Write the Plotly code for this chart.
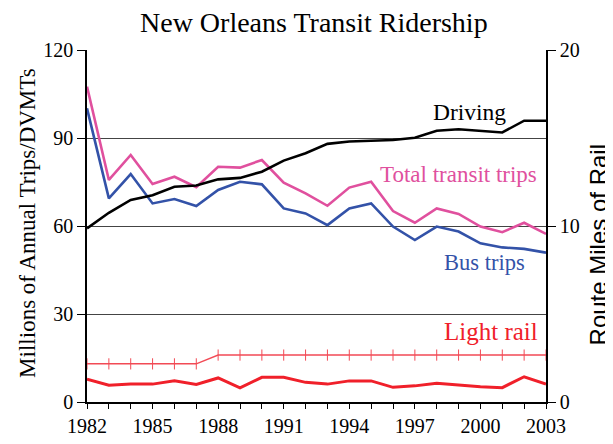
import plotly.graph_objects as go

years = list(range(1982, 2004))
driving = [59.2, 64.5, 68.9, 70.5, 73.4, 73.8, 75.9, 76.4, 78.5, 82.3, 84.8,
           88.0, 88.8, 89.1, 89.3, 90.1, 92.5, 93.0, 92.5, 91.9, 95.9, 95.9]
total_transit = [107.5, 75.7, 84.2, 74.3, 76.8, 73.2, 80.2, 79.9, 82.5, 74.8, 71.1,
                 66.9, 73.1, 75.1, 65.1, 61.1, 66.0, 64.1, 59.8, 57.9, 61.1, 57.3]
bus_trips = [100.1, 69.4, 77.7, 67.7, 69.2, 66.8, 72.3, 75.1, 74.2, 66.0, 64.3,
             60.3, 66.0, 67.7, 59.8, 55.2, 59.8, 58.1, 54.1, 52.7, 52.2, 50.9]
light_rail = [7.8, 5.7, 6.1, 6.1, 7.2, 6.0, 8.2, 4.8, 8.4, 8.4, 6.7,
              6.1, 7.2, 7.2, 5.0, 5.5, 6.4, 5.8, 5.2, 4.9, 8.6, 6.1]
route_miles = [13, 13, 13, 13, 13, 13, 16, 16, 16, 16, 16,
               16, 16, 16, 16, 16, 16, 16, 16, 16, 16, 16]

SERIF = "Liberation Serif"
SANS = "Liberation Sans"
BLACK = "#000000"
PINK = "#E0509E"
BLUE = "#3352A8"
RED = "#F0202A"
LRED = "#F24A55"

fig = go.Figure()
fig.add_trace(go.Scatter(x=years, y=route_miles, mode="lines+markers",
                         line=dict(color=LRED, width=1.5),
                         marker=dict(symbol="line-ns-open", size=8,
                                     line=dict(color=LRED, width=1)),
                         showlegend=False))
fig.add_trace(go.Scatter(x=years, y=light_rail, mode="lines",
                         line=dict(color=RED, width=3), showlegend=False))
fig.add_trace(go.Scatter(x=years, y=bus_trips, mode="lines",
                         line=dict(color=BLUE, width=2.6), showlegend=False))
fig.add_trace(go.Scatter(x=years, y=total_transit, mode="lines",
                         line=dict(color=PINK, width=2.6), showlegend=False))
fig.add_trace(go.Scatter(x=years, y=driving, mode="lines",
                         line=dict(color=BLACK, width=2.6), showlegend=False))
# invisible trace to activate right axis
fig.add_trace(go.Scatter(x=[1982], y=[0], yaxis="y2", mode="markers",
                         marker=dict(opacity=0), showlegend=False, hoverinfo="skip"))

labels = [
    ("Driving", 1999.5, 98.9, BLACK, 23.5),
    ("Total transit trips", 1999.0, 77.7, PINK, 23),
    ("Bus trips", 2000.2, 47.4, BLUE, 22.5),
    ("Light rail", 2000.5, 24.2, RED, 25),
]
for text, x, y, c, s in labels:
    fig.add_annotation(x=x, y=y, xref="x", yref="y", text=text, showarrow=False,
                       font=dict(family=SERIF, size=s, color=c))

# title and axis titles
fig.add_annotation(x=0.4946, y=1.0795, xref="paper", yref="paper",
                   text="New Orleans Transit Ridership", showarrow=False,
                   xanchor="center", yanchor="middle",
                   font=dict(family=SERIF, size=28, color="black"))
fig.add_annotation(x=-0.131, y=0.5085, xref="paper", yref="paper",
                   text="Millions of Annual Trips/DVMTs", showarrow=False,
                   textangle=-90, xanchor="center", yanchor="middle",
                   font=dict(family=SERIF, size=23, color="black"))
fig.add_annotation(x=1.115, y=0.447, xref="paper", yref="paper",
                   text="Route Miles of Rail", showarrow=False,
                   textangle=-90, xanchor="center", yanchor="middle",
                   font=dict(family=SANS, size=24, color="black"))

# the page body adds an 8px offset; size the figure so it fits the window
fig.update_layout(
    width=605, height=436,
    margin=dict(l=79, r=67, t=42, b=42, autoexpand=False),
    paper_bgcolor="white", plot_bgcolor="white",
    font=dict(family=SERIF, size=20, color="black"),
    xaxis=dict(range=[1982, 2003], tick0=1982, dtick=3, ticks="outside",
               ticklen=5, tickcolor="black", showline=True, linecolor="black",
               linewidth=1.5, showgrid=False, zeroline=False, automargin=False,
               minor=dict(dtick=1, ticks="outside", ticklen=5, tickcolor="black"),
               tickfont=dict(family=SERIF, size=20)),
    yaxis=dict(range=[0, 120], tickvals=[0, 30, 60, 90, 120], ticks="outside",
               ticklen=8, tickcolor="black", showline=True, linecolor="black",
               linewidth=1.5, showgrid=True, gridcolor="#444444", gridwidth=1,
               zeroline=False, automargin=False,
               tickfont=dict(family=SERIF, size=20)),
    yaxis2=dict(range=[0, 20], tickvals=[0, 10, 20], overlaying="y", side="right",
                ticks="outside", ticklen=8, tickcolor="black", showline=True,
                linecolor="black", linewidth=1.5, showgrid=False, zeroline=False,
                automargin=False, tickfont=dict(family=SERIF, size=20)),
)

fig.write_html("out.html")
